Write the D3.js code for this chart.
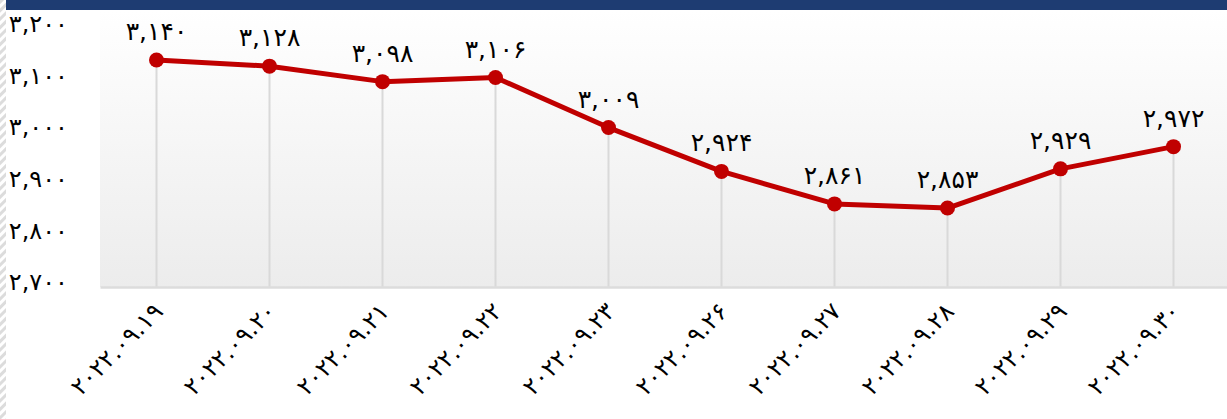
<!DOCTYPE html>
<html><head><meta charset="utf-8">
<script src="https://cdn.jsdelivr.net/npm/d3@7"></script>
<style>html,body{margin:0;padding:0;background:#fff;}svg{display:block;}</style>
</head><body>
<script>
const categories = ["۲۰۲۲.۰۹.۱۹","۲۰۲۲.۰۹.۲۰","۲۰۲۲.۰۹.۲۱","۲۰۲۲.۰۹.۲۲","۲۰۲۲.۰۹.۲۳","۲۰۲۲.۰۹.۲۶","۲۰۲۲.۰۹.۲۷","۲۰۲۲.۰۹.۲۸","۲۰۲۲.۰۹.۲۹","۲۰۲۲.۰۹.۳۰"];
const values = [3140, 3128, 3098, 3106, 3009, 2924, 2861, 2853, 2929, 2972];
const yTicks = [2700, 2800, 2900, 3000, 3100, 3200];

const W = 1227, H = 419;
const fa = s => String(s).replace(/[0-9]/g, d => "۰۱۲۳۴۵۶۷۸۹"[+d]);
const fmt = v => fa(d3.format(",")(v));

const svg = d3.select("body").append("svg").attr("width", W).attr("height", H);
const defs = svg.append("defs");
const grad = defs.append("linearGradient").attr("id","bg").attr("x1",0).attr("y1",0).attr("x2",0).attr("y2",1);
grad.append("stop").attr("offset","0%").attr("stop-color","#ffffff");
grad.append("stop").attr("offset","100%").attr("stop-color","#ececec");
const pat = defs.append("pattern").attr("id","hatch").attr("width",6).attr("height",6)
  .attr("patternUnits","userSpaceOnUse").attr("patternTransform","rotate(45)");
pat.append("rect").attr("width",6).attr("height",6).attr("fill","#ffffff");
pat.append("rect").attr("width",3).attr("height",6).attr("fill","#dcdcdc");

const plotL = 100, plotR = 1230, plotTop = 10, y0 = 287;
const x = d3.scaleBand().domain(categories).range([plotL, plotR]).padding(0);
const y = d3.scaleLinear().domain([2700, 3200]).range([y0, 29]);

svg.append("rect").attr("x",0).attr("y",0).attr("width",6).attr("height",H).attr("fill","url(#hatch)");
svg.append("rect").attr("x",6).attr("y",0).attr("width",W-6).attr("height",10).attr("fill","#1e3c72");

svg.append("rect").attr("x",plotL).attr("y",plotTop).attr("width",plotR-plotL).attr("height",y0-plotTop).attr("fill","url(#bg)");

const cx = d => x(d) + x.bandwidth()/2;

svg.append("g").selectAll("line").data(categories).join("line")
  .attr("x1", cx).attr("x2", cx)
  .attr("y1", (d,i) => y(values[i])).attr("y2", y0)
  .attr("stroke","#d9d9d9").attr("stroke-width",2);

const xAxis = d3.axisBottom(x).tickSize(0).tickFormat("");
const gx = svg.append("g").attr("transform",`translate(0,${y0})`).call(xAxis);
gx.select(".domain").attr("stroke","#dcdcdc").attr("stroke-width",2.5);

const yAxis = d3.axisLeft(y).tickValues(yTicks).tickSize(0).tickFormat(fmt);
const gy = svg.append("g").attr("transform",`translate(71,-5)`).call(yAxis);
gy.select(".domain").remove();
gy.selectAll("text").attr("font-family","DejaVu Sans").attr("font-size",24).attr("fill","#000").attr("dx",0);

svg.append("g").selectAll("text").data(categories).join("text")
  .attr("transform", d => `translate(${cx(d)+2},${y0+20}) rotate(-45)`)
  .attr("text-anchor","end").attr("dy","0.35em")
  .attr("font-family","DejaVu Sans").attr("font-size",24).attr("fill","#000")
  .text(d => d);

const line = d3.line().x((d,i) => cx(categories[i])).y(d => y(d));
svg.append("path").datum(values).attr("d", line)
  .attr("fill","none").attr("stroke","#c00000").attr("stroke-width",5).attr("stroke-linejoin","round");

svg.append("g").selectAll("circle").data(values).join("circle")
  .attr("cx",(d,i) => cx(categories[i])).attr("cy", d => y(d)).attr("r",7.5)
  .attr("fill","#c00000");

svg.append("g").selectAll("text").data(values).join("text")
  .attr("x",(d,i) => cx(categories[i])).attr("y", d => y(d) - 20)
  .attr("text-anchor","middle")
  .attr("font-family","DejaVu Sans").attr("font-size",25).attr("fill","#000")
  .text(fmt);
</script>
</body></html>
